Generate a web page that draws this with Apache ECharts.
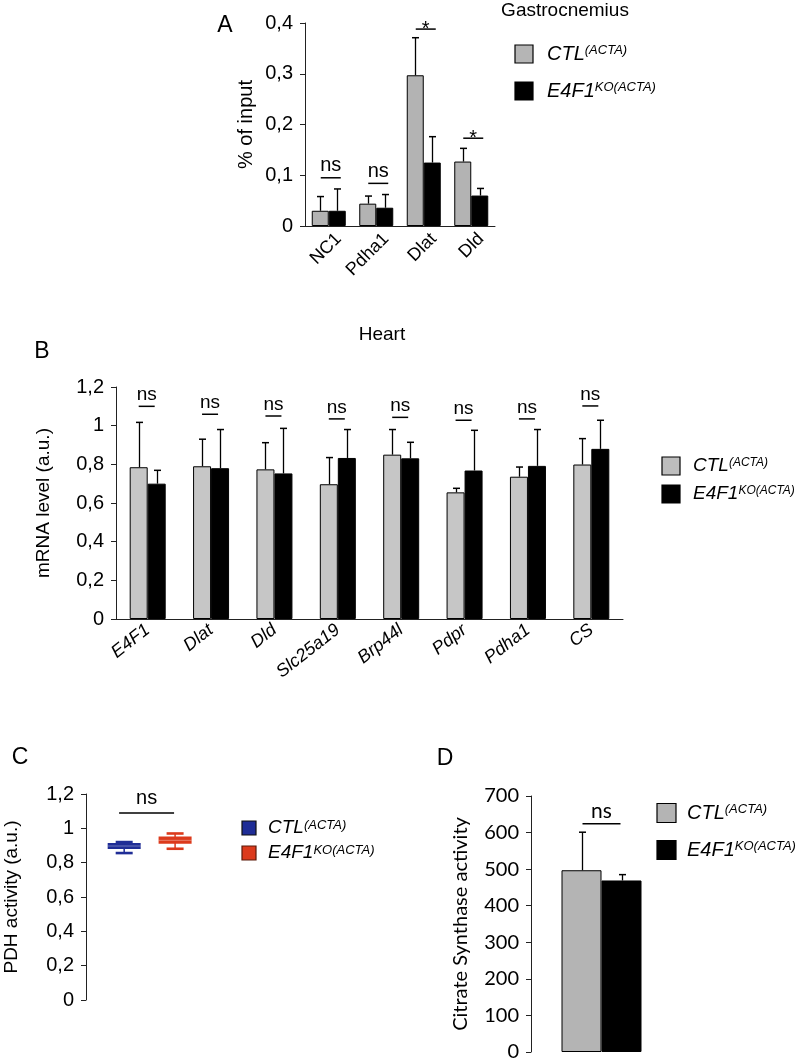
<!DOCTYPE html>
<html><head><meta charset="utf-8">
<script src="https://cdn.jsdelivr.net/npm/echarts@6/dist/echarts.min.js"></script>
<style>html,body{margin:0;padding:0;background:#fff}#c{width:800px;height:1062px}</style>
</head><body><div id="c"></div>
<script>
// ---------- Panel A : Gastrocnemius ChIP ----------
const catsA = ['NC1', 'Pdha1', 'Dlat', 'Dld'];
const ctlA = [0.030, 0.044, 0.297, 0.127];
const ctlErrA = [0.058, 0.059, 0.371, 0.153];
const koA = [0.030, 0.036, 0.125, 0.060];
const koErrA = [0.073, 0.062, 0.176, 0.074];
const sigA = [[0, 0.095, 'ns'], [1, 0.084, 'ns'], [2, 0.388, '*'], [3, 0.173, '*']];

// ---------- Panel B : Heart mRNA ----------
const catsB = ['E4F1', 'Dlat', 'Dld', 'Slc25a19', 'Brp44l', 'Pdpr', 'Pdha1', 'CS'];
const ctlB = [0.785, 0.790, 0.774, 0.697, 0.850, 0.655, 0.736, 0.799];
const ctlErrB = [1.017, 0.930, 0.912, 0.835, 0.980, 0.676, 0.786, 0.933];
const koB = [0.700, 0.780, 0.753, 0.833, 0.831, 0.768, 0.792, 0.880];
const koErrB = [0.769, 0.980, 0.986, 0.980, 0.914, 0.976, 0.980, 1.028];
const sigB = [[0, 1.100, 'ns'], [1, 1.059, 'ns'], [2, 1.050, 'ns'], [3, 1.035, 'ns'], [4, 1.043, 'ns'], [5, 1.028, 'ns'], [6, 1.035, 'ns'], [7, 1.102, 'ns']];

// ---------- Panel C : PDH activity (box plots) ----------
const groupsC = [1, 2];
// [min, q1, median, q3, max]
const boxCtlC = [0.856, 0.879, 0.897, 0.914, 0.920];
const boxKoC = [0.881, 0.910, 0.930, 0.953, 0.970];
const sigC = [[0.9, 1.98, 1.089, 'ns']];

// ---------- Panel D : Citrate synthase ----------
const catsD = [''];
const ctlD = [497];
const ctlErrD = [601];
const koD = [469];
const koErrD = [485];
const sigD = [[0, 624, 'ns']];

const yTicksComma = v => String(+(+v).toFixed(1)).replace('.', ',');

const FF = '"Liberation Sans", Arial, sans-serif';
const FD = 'Lato, "Open Sans", sans-serif';
const AX = '#222';

function errSeries(xi, vals, errs, dx, capW) {
  return {
    type: 'custom', xAxisIndex: xi, yAxisIndex: xi, z: 5, silent: true,
    data: vals.map((v, i) => [i, v, errs[i]]),
    renderItem: (params, api) => {
      const b = api.coord([api.value(0), api.value(1)]);
      const t = api.coord([api.value(0), api.value(2)]);
      const x = Math.round(b[0] + dx) + 0.5;
      return { type: 'group', children: [
        { type: 'line', shape: { x1: x, y1: b[1], x2: x, y2: t[1] }, style: { stroke: '#000', lineWidth: 1.3 } },
        { type: 'line', shape: { x1: x - capW / 2, y1: t[1], x2: x + capW / 2, y2: t[1] }, style: { stroke: '#000', lineWidth: 1.5 } }
      ] };
    }
  };
}

function sigSeries(xi, items, lineW, fs, ff, dx) {
  return {
    type: 'custom', xAxisIndex: xi, yAxisIndex: xi, z: 6, silent: true,
    data: items.map(d => [d[0], d[1]]),
    renderItem: (params, api) => {
      const p = api.coord([api.value(0), api.value(1)]);
      const lab = items[params.dataIndex][2];
      const x = p[0] + dx;
      const star = lab === '*';
      return { type: 'group', children: [
        { type: 'line', shape: { x1: x - lineW / 2, y1: p[1], x2: x + lineW / 2, y2: p[1] }, style: { stroke: '#000', lineWidth: 1.5 } },
        { type: 'text', x: x, y: star ? p[1] : p[1] - 2, style: { text: lab, fontSize: fs, fontFamily: ff, fill: '#000', align: 'center', verticalAlign: star ? 'middle' : 'bottom' } }
      ] };
    }
  };
}

function boxSeries(xIdx, box, color) {
  return {
    type: 'custom', xAxisIndex: 2, yAxisIndex: 2, z: 5, silent: true,
    data: [[groupsC[xIdx]].concat(box)],
    renderItem: (params, api) => {
      const xv = api.value(0);
      const mn = api.coord([xv, api.value(1)]);
      const q1 = api.coord([xv, api.value(2)]);
      const md = api.coord([xv, api.value(3)]);
      const q3 = api.coord([xv, api.value(4)]);
      const mx = api.coord([xv, api.value(5)]);
      const x = mn[0], bw = 33, cw = 17;
      return { type: 'group', children: [
        { type: 'line', shape: { x1: x, y1: mx[1], x2: x, y2: mn[1] }, style: { stroke: color, lineWidth: 1.5 } },
        { type: 'rect', shape: { x: x - cw / 2, y: mx[1] - 1.3, width: cw, height: 2.6 }, style: { fill: color } },
        { type: 'rect', shape: { x: x - cw / 2, y: mn[1] - 1.3, width: cw, height: 2.6 }, style: { fill: color } },
        { type: 'rect', shape: { x: x - bw / 2, y: q3[1], width: bw, height: q1[1] - q3[1] }, style: { fill: color } },
        { type: 'line', shape: { x1: x - bw / 2, y1: md[1], x2: x + bw / 2, y2: md[1] }, style: { stroke: 'rgba(255,255,255,0.35)', lineWidth: 1 } }
      ] };
    }
  };
}

function legendText(sup, main, fs, sfs) {
  return {
    text: '{m|' + main + '}{s|' + sup + '}',
    rich: {
      m: { fontSize: fs, fontStyle: 'italic', fontFamily: FF, fill: '#000' },
      s: { fontSize: sfs, fontStyle: 'italic', fontFamily: FF, fill: '#000', verticalAlign: 'top' }
    },
    verticalAlign: 'middle'
  };
}

function legend(x, y1, y2, size, c1, c2, fs, sfs, tx, b1, b2) {
  return [
    { type: 'rect', shape: { x: x, y: y1 - size / 2, width: size, height: size }, style: { fill: c1, stroke: b1 || '#000', lineWidth: 1.2 } },
    { type: 'rect', shape: { x: x, y: y2 - size / 2, width: size, height: size }, style: { fill: c2, stroke: b2 || '#000', lineWidth: 1.2 } },
    { type: 'text', x: tx, y: y1, style: legendText('(ACTA)', 'CTL', fs, sfs) },
    { type: 'text', x: tx, y: y2, style: legendText('KO(ACTA)', 'E4F1', fs, sfs) }
  ];
}

function yAx(grid, min, max, interval, name, gap, fmt, ff, fs, nfs) {
  return {
    type: 'value', gridIndex: grid, min: min, max: max, interval: interval,
    name: name, nameLocation: 'middle', nameGap: gap,
    nameTextStyle: { fontSize: nfs, fontFamily: ff, color: '#000' },
    axisLine: { show: true, lineStyle: { color: AX, width: 1 } },
    axisTick: { show: true, length: 5, lineStyle: { color: AX } },
    splitLine: { show: false },
    axisLabel: { formatter: fmt, fontSize: fs, fontFamily: ff, color: '#000', margin: 12 }
  };
}

const bigText = (t, x, y, fs, ff) => ({ type: 'text', x: x, y: y, style: { text: t, fontSize: fs, fontFamily: ff || FF, fill: '#000', align: 'center', verticalAlign: 'middle' } });

const chart = echarts.init(document.getElementById('c'));
chart.setOption({
  animation: false,
  backgroundColor: '#fff',
  grid: [
    { left: 305, top: 23, width: 190, height: 203 },
    { left: 116, top: 387, width: 507, height: 232 },
    { left: 86, top: 794, width: 140, height: 206 },
    { left: 531, top: 796, width: 141, height: 257 }
  ],
  xAxis: [
    { type: 'category', gridIndex: 0, data: catsA,
      axisLine: { lineStyle: { color: AX } }, axisTick: { show: false },
      axisLabel: { rotate: 45, fontSize: 18, fontFamily: FF, color: '#000', margin: 20, interval: 0,
        formatter: v => '{a|' + v + '}', rich: { a: { fontSize: 18, fontFamily: FF, padding: [0, -14, 0, 0] } } } },
    { type: 'category', gridIndex: 1, data: catsB,
      axisLine: { lineStyle: { color: AX } }, axisTick: { show: false },
      axisLabel: { rotate: 38, fontSize: 18, fontStyle: 'italic', fontFamily: FF, color: '#000', margin: 9, interval: 0 } },
    { type: 'value', gridIndex: 2, min: 0.25, max: 3, show: false },
    { type: 'category', gridIndex: 3, data: catsD, show: false }
  ],
  yAxis: [
    yAx(0, 0, 0.4, 0.1, '% of input', 49, yTicksComma, FF, 20, 20),
    yAx(1, 0, 1.2, 0.2, 'mRNA level (a.u.)', 63, yTicksComma, FF, 20, 19),
    yAx(2, 0, 1.2, 0.2, 'PDH activity (a.u.)', 65, yTicksComma, FF, 20, 19),
    yAx(3, 0, 700, 100, 'Citrate Synthase activity', 60, v => String(v), FD, 20, 20)
  ],
  series: [
    { type: 'bar', xAxisIndex: 0, yAxisIndex: 0, data: ctlA, barWidth: 17, barGap: '0%',
      itemStyle: { color: '#b3b3b3', borderColor: '#000', borderWidth: 1 } },
    { type: 'bar', xAxisIndex: 0, yAxisIndex: 0, data: koA, barWidth: 17, barGap: '0%',
      itemStyle: { color: '#000', borderColor: '#000', borderWidth: 1 } },
    errSeries(0, ctlA, ctlErrA, -8.5, 7),
    errSeries(0, koA, koErrA, 8.5, 7),
    sigSeries(0, sigA, 20, 20, FF, 2),

    { type: 'bar', xAxisIndex: 1, yAxisIndex: 1, data: ctlB, barWidth: 18, barGap: '0%',
      itemStyle: { color: '#c6c6c6', borderColor: '#000', borderWidth: 1 } },
    { type: 'bar', xAxisIndex: 1, yAxisIndex: 1, data: koB, barWidth: 18, barGap: '0%',
      itemStyle: { color: '#000', borderColor: '#000', borderWidth: 1 } },
    errSeries(1, ctlB, ctlErrB, -9, 7),
    errSeries(1, koB, koErrB, 9, 7),
    sigSeries(1, sigB, 16, 19, FF, -1),

    boxSeries(0, boxCtlC, '#1f2d96'),
    boxSeries(1, boxKoC, '#dc3a1c'),
    { type: 'custom', xAxisIndex: 2, yAxisIndex: 2, z: 6, silent: true,
      data: sigC.map(d => [d[0], d[1], d[2]]),
      renderItem: (params, api) => {
        const a = api.coord([api.value(0), api.value(2)]);
        const b = api.coord([api.value(1), api.value(2)]);
        return { type: 'group', children: [
          { type: 'line', shape: { x1: a[0], y1: a[1], x2: b[0], y2: b[1] }, style: { stroke: '#000', lineWidth: 1.5 } },
          { type: 'text', x: (a[0] + b[0]) / 2, y: a[1] - 5, style: { text: sigC[params.dataIndex][3], fontSize: 20, fontFamily: FF, fill: '#000', align: 'center', verticalAlign: 'bottom' } }
        ] };
      } },

    { type: 'bar', xAxisIndex: 3, yAxisIndex: 3, data: ctlD, barWidth: 40, barGap: '0%',
      itemStyle: { color: '#b4b4b4', borderColor: '#000', borderWidth: 1 } },
    { type: 'bar', xAxisIndex: 3, yAxisIndex: 3, data: koD, barWidth: 40, barGap: '0%',
      itemStyle: { color: '#000', borderColor: '#000', borderWidth: 1 } },
    errSeries(3, ctlD, ctlErrD, -20, 7),
    errSeries(3, koD, koErrD, 20, 7),
    sigSeries(3, sigD, 38, 21, FD, 0)
  ],
  graphic: [].concat(
    [bigText('A', 225, 26, 23), bigText('B', 42, 352, 23), bigText('C', 20, 758, 23), bigText('D', 445, 759, 23),
     bigText('Gastrocnemius', 565, 11, 19), bigText('Heart', 382, 335, 19)],
    legend(515, 54, 91, 18, '#b5b5b5', '#000', 20, 13, 547),
    legend(662, 466, 494, 18, '#bdbdbd', '#000', 19, 12, 693),
    legend(242, 828, 853, 14, '#1f2d96', '#dc3a1c', 19, 13, 268, '#111', '#5a1a0a'),
    legend(657, 813, 850, 19, '#b4b4b4', '#000', 20, 13, 687)
  )
});
</script>
</body></html>
